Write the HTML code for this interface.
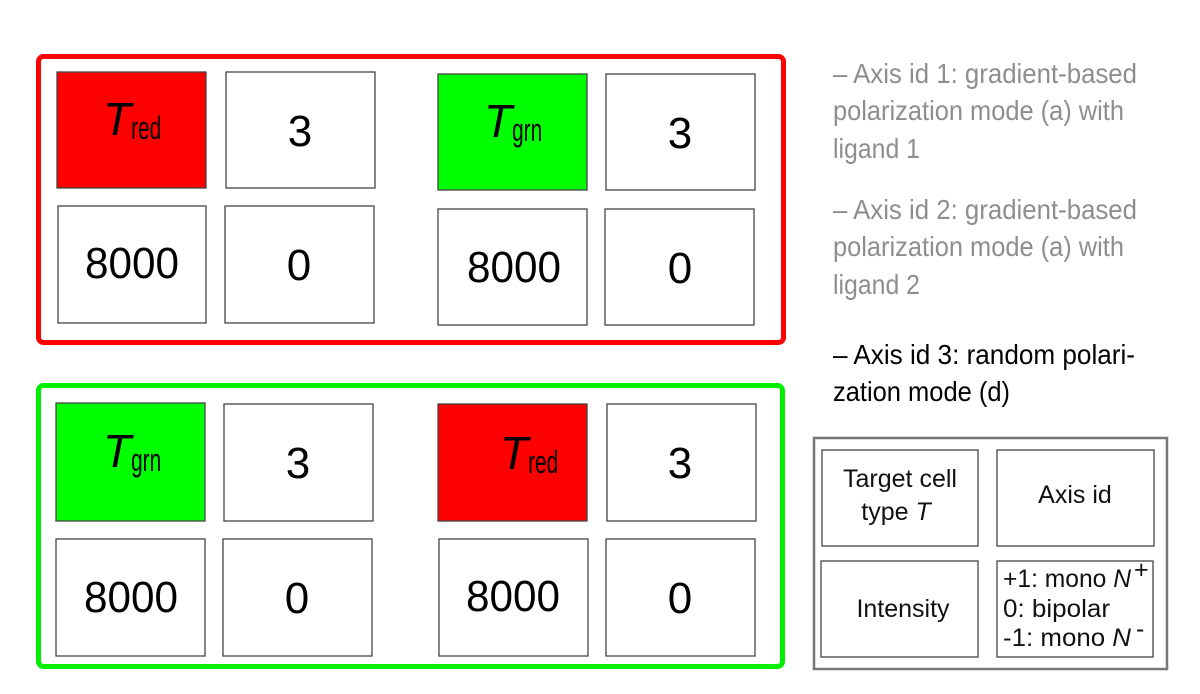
<!DOCTYPE html>
<html><head><meta charset="utf-8"><style>
html,body{margin:0;padding:0;background:#fff;width:1200px;height:694px;overflow:hidden}
svg{display:block}
.num{font-family:"Liberation Sans",sans-serif;font-size:44px;fill:#000;text-anchor:middle}
.side{font-family:"Liberation Sans",sans-serif;font-size:28px}
.leg{font-family:"Liberation Sans",sans-serif;font-size:25px;fill:#111}
.cell{stroke:#444;stroke-width:1.3}
</style></head><body>
<svg width="1200" height="694" viewBox="0 0 1200 694" xmlns="http://www.w3.org/2000/svg">
<rect x="38.5" y="56.5" width="745" height="286" rx="5" fill="none" stroke="#ff0000" stroke-width="5"/>
<g>
<rect class="cell" x="57" y="72" width="149" height="116" fill="#ff0000"/>
<text x="103" y="135" font-family="Liberation Sans,sans-serif" font-style="italic" font-size="46">T<tspan font-style="normal" font-size="32" dy="4" textLength="30" lengthAdjust="spacingAndGlyphs">red</tspan></text>
<rect class="cell" x="226" y="72" width="149" height="116" fill="#fff"/>
<text class="num" x="300" y="146">3</text>
<rect class="cell" x="58" y="206" width="148" height="117" fill="#fff"/>
<text class="num" x="132" y="278" textLength="94" lengthAdjust="spacingAndGlyphs">8000</text>
<rect class="cell" x="225" y="206" width="149" height="117" fill="#fff"/>
<text class="num" x="299" y="280">0</text>
</g>
<g>
<rect class="cell" x="438" y="74" width="149" height="116" fill="#00ff00"/>
<text x="484" y="137" font-family="Liberation Sans,sans-serif" font-style="italic" font-size="46">T<tspan font-style="normal" font-size="32" dy="4" textLength="30" lengthAdjust="spacingAndGlyphs">grn</tspan></text>
<rect class="cell" x="606" y="74" width="149" height="116" fill="#fff"/>
<text class="num" x="680" y="148">3</text>
<rect class="cell" x="438" y="209" width="149" height="116" fill="#fff"/>
<text class="num" x="514" y="282" textLength="94" lengthAdjust="spacingAndGlyphs">8000</text>
<rect class="cell" x="605" y="209" width="149" height="116" fill="#fff"/>
<text class="num" x="680" y="283">0</text>
</g>

<rect x="38.5" y="385.5" width="744" height="281" rx="5" fill="none" stroke="#00ee00" stroke-width="5"/>
<g>
<rect class="cell" x="56" y="403" width="149" height="118" fill="#00ff00"/>
<text x="103" y="467" font-family="Liberation Sans,sans-serif" font-style="italic" font-size="46">T<tspan font-style="normal" font-size="32" dy="4" textLength="30" lengthAdjust="spacingAndGlyphs">grn</tspan></text>
<rect class="cell" x="224" y="404" width="149" height="117" fill="#fff"/>
<text class="num" x="298" y="478">3</text>
<rect class="cell" x="56" y="539" width="149" height="117" fill="#fff"/>
<text class="num" x="131" y="612" textLength="94" lengthAdjust="spacingAndGlyphs">8000</text>
<rect class="cell" x="223" y="539" width="149" height="117" fill="#fff"/>
<text class="num" x="297" y="613">0</text>
</g>
<g>
<rect class="cell" x="438" y="404" width="149" height="117" fill="#ff0000"/>
<text x="500" y="469" font-family="Liberation Sans,sans-serif" font-style="italic" font-size="46">T<tspan font-style="normal" font-size="32" dy="4" textLength="30" lengthAdjust="spacingAndGlyphs">red</tspan></text>
<rect class="cell" x="607" y="404" width="149" height="117" fill="#fff"/>
<text class="num" x="680" y="478">3</text>
<rect class="cell" x="439" y="539" width="149" height="117" fill="#fff"/>
<text class="num" x="513" y="611" textLength="94" lengthAdjust="spacingAndGlyphs">8000</text>
<rect class="cell" x="606" y="539" width="149" height="117" fill="#fff"/>
<text class="num" x="680" y="613">0</text>
</g>

<g class="side" fill="#8e8e8e">
<text x="833" y="83" textLength="304" lengthAdjust="spacingAndGlyphs">– Axis id 1: gradient-based</text>
<text x="833" y="120" textLength="291" lengthAdjust="spacingAndGlyphs">polarization mode (a) with</text>
<text x="833" y="158" textLength="87" lengthAdjust="spacingAndGlyphs">ligand 1</text>
</g>
<g class="side" fill="#8e8e8e">
<text x="833" y="219" textLength="304" lengthAdjust="spacingAndGlyphs">– Axis id 2: gradient-based</text>
<text x="833" y="256" textLength="291" lengthAdjust="spacingAndGlyphs">polarization mode (a) with</text>
<text x="833" y="294" textLength="87" lengthAdjust="spacingAndGlyphs">ligand 2</text>
</g>
<g class="side" fill="#000">
<text x="833" y="364" textLength="302" lengthAdjust="spacingAndGlyphs">– Axis id 3: random polari-</text>
<text x="833" y="401" textLength="177" lengthAdjust="spacingAndGlyphs">zation mode (d)</text>
</g>

<g>
<rect x="814" y="438" width="353" height="231" fill="#fff" stroke="#777" stroke-width="2.5"/>
<rect class="cell" x="822" y="450" width="156" height="96" fill="#fff"/>
<text class="leg" x="900" y="487" text-anchor="middle">Target cell</text>
<text class="leg" x="896" y="520" text-anchor="middle">type <tspan font-style="italic">T</tspan></text>
<rect class="cell" x="997" y="450" width="157" height="96" fill="#fff"/>
<text class="leg" x="1075" y="503" text-anchor="middle">Axis id</text>
<rect class="cell" x="821" y="561" width="157" height="96" fill="#fff"/>
<text class="leg" x="903" y="617" text-anchor="middle">Intensity</text>
<rect class="cell" x="997" y="561" width="156" height="96" fill="#fff"/>
<text class="leg" x="1003" y="587" textLength="128" lengthAdjust="spacingAndGlyphs">+1: mono <tspan font-style="italic">N</tspan></text>
<text class="leg" x="1134" y="578" font-size="18">+</text>
<text class="leg" x="1003" y="617" textLength="107" lengthAdjust="spacingAndGlyphs">0: bipolar</text>
<text class="leg" x="1003" y="646" textLength="128" lengthAdjust="spacingAndGlyphs">-1: mono <tspan font-style="italic">N</tspan></text>
<text class="leg" x="1136" y="637" font-size="18">-</text>
</g>
</svg>
</body></html>
